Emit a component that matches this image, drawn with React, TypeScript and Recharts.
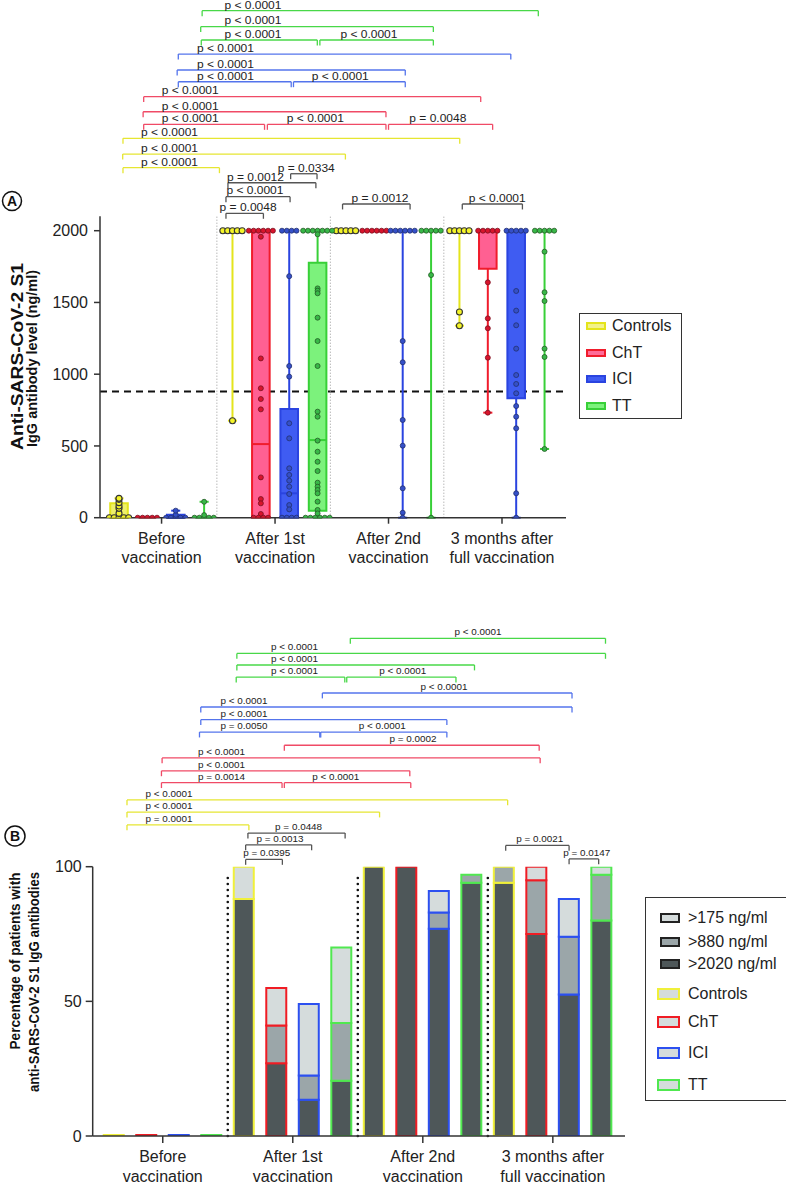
import React from 'react';
import { ComposedChart, XAxis, YAxis, Scatter, Bar, Cell, ReferenceLine, ReferenceArea, ReferenceDot } from 'recharts';

const timepoints = [
  ['Before', 'vaccination'],
  ['After 1st', 'vaccination'],
  ['After 2nd', 'vaccination'],
  ['3 months after', 'full vaccination'],
];
const groups = ['Controls', 'ChT', 'ICI', 'TT'];
const gradeLabels = ['>175 ng/ml', '>880 ng/ml', '>2020 ng/ml'];

// box stats per timepoint: [min, q1, median, q3, max]
const controlsBox = [[0, 0, 0, 100, 135], [676, 2000, 2000, 2000, 2000], [2000, 2000, 2000, 2000, 2000], [1338, 2000, 2000, 2000, 2000]];
const chtBox = [[0, 0, 0, 0, 0], [0, 0, 513, 2000, 2000], [2000, 2000, 2000, 2000, 2000], [732, 1735, 2000, 2000, 2000]];
const iciBox = [[0, 0, 0, 20, 49], [0, 0, 170, 757, 2000], [0, 2000, 2000, 2000, 2000], [0, 832, 2000, 2000, 2000]];
const ttBox = [[0, 0, 0, 0, 111], [0, 49, 541, 1777, 2000], [0, 2000, 2000, 2000, 2000], [479, 2000, 2000, 2000, 2000]];

// individual patients (ng/ml)
const controlsPts = [
  [0, 0, 0, 0, 0, 30, 65, 82, 105, 128, 135],
  [2000, 2000, 2000, 2000, 2000, 676],
  [2000, 2000, 2000, 2000, 2000],
  [2000, 2000, 2000, 2000, 2000, 1433, 1338],
];
const chtPts = [
  [0, 0, 0, 0, 0],
  [2000, 2000, 2000, 2000, 2000, 2000, 1958, 1110, 902, 827, 755, 281, 130, 100, 26, 0, 0, 0, 0],
  [2000, 2000, 2000, 2000, 2000, 2000],
  [2000, 2000, 2000, 2000, 2000, 1640, 1389, 1320, 1115, 732],
];
const iciPts = [
  [0, 0, 0, 0, 0, 20, 49],
  [2000, 2000, 2000, 2000, 1683, 1057, 983, 658, 553, 344, 298, 258, 216, 165, 88, 58, 0, 0, 0, 0],
  [2000, 2000, 2000, 2000, 2000, 2000, 1231, 1083, 681, 502, 205, 35, 0],
  [2000, 2000, 2000, 2000, 2000, 1580, 1443, 1341, 1178, 994, 932, 867, 778, 704, 623, 170, 0],
];
const ttPts = [
  [0, 0, 0, 0, 0, 18, 111],
  [2000, 2000, 2000, 2000, 2000, 2000, 2000, 1975, 1598, 1582, 1564, 1394, 1231, 1057, 739, 704, 537, 460, 390, 325, 244, 216, 193, 170, 112, 54, 30, 0, 0, 0, 0, 0, 0],
  [2000, 2000, 2000, 2000, 2000, 1691, 0],
  [2000, 2000, 2000, 2000, 2000, 1854, 1571, 1510, 1178, 1120, 479],
];

// panel B: % of patients, stacked increments (>2020, >880, >175)
const darkPct = [0, 0, 0, 0, 88, 27, 13.5, 20.5, 100, 100, 77, 94, 94, 75, 52.5, 80];
const midPct = [0, 0, 0, 0, 0, 14, 9, 21.5, 0, 0, 6, 3, 6, 20, 21.5, 17];
const lightPct = [0.4, 0.4, 0.4, 0.4, 12, 14, 26.5, 28, 0, 0, 8, 0, 0, 5, 14, 3];

// significance brackets: [from, to, level, label position, text, colour group]
const bracketsA: [number, number, number, number, string, string][] = [
  [2.93, 14.78, 3533, 4.72, 'p < 0.0001', 'TT'],
  [2.88, 11.08, 3422, 4.72, 'p < 0.0001', 'TT'],
  [2.9, 6.99, 3329, 4.72, 'p < 0.0001', 'TT'],
  [7.08, 11.08, 3329, 8.81, 'p < 0.0001', 'TT'],
  [2.09, 13.81, 3231, 3.75, 'p < 0.0001', 'ICI'],
  [2.05, 10.09, 3120, 3.75, 'p < 0.0001', 'ICI'],
  [2.09, 6.07, 3038, 3.75, 'p < 0.0001', 'ICI'],
  [6.15, 10.09, 3038, 7.8, 'p < 0.0001', 'ICI'],
  [0.87, 12.75, 2934, 2.51, 'p < 0.0001', 'ChT'],
  [0.85, 9.41, 2829, 2.51, 'p < 0.0001', 'ChT'],
  [0.87, 5.13, 2741, 2.51, 'p < 0.0001', 'ChT'],
  [5.23, 9.41, 2741, 6.92, 'p < 0.0001', 'ChT'],
  [9.5, 13.17, 2741, 11.24, 'p = 0.0048', 'ChT'],
  [0.14, 12.01, 2644, 1.78, 'p < 0.0001', 'Controls'],
  [0.13, 7.98, 2534, 1.78, 'p < 0.0001', 'Controls'],
  [0.14, 3.54, 2439, 1.78, 'p < 0.0001', 'Controls'],
  [6.05, 6.98, 2397, 6.6, 'p = 0.0334', 'gray'],
  [3.84, 6.94, 2334, 4.81, 'p = 0.0012', 'gray'],
  [3.77, 6.03, 2237, 4.79, 'p < 0.0001', 'gray'],
  [3.77, 5.09, 2121, 4.55, 'p = 0.0048', 'gray'],
  [7.88, 10.26, 2186, 9.2, 'p = 0.0012', 'gray'],
  [12.1, 14.22, 2186, 13.33, 'p < 0.0001', 'gray'],
];
const bracketsB: [number, number, number, number, string, string][] = [
  [7.27, 15.12, 184.8, 11.2, 'p < 0.0001', 'TT'],
  [3.78, 15.12, 179.2, 5.55, 'p < 0.0001', 'TT'],
  [3.78, 11.09, 174.9, 5.55, 'p < 0.0001', 'TT'],
  [3.76, 7.1, 170.4, 5.55, 'p < 0.0001', 'TT'],
  [7.16, 10.52, 170.4, 8.88, 'p < 0.0001', 'TT'],
  [6.41, 14.09, 164.5, 10.15, 'p < 0.0001', 'ICI'],
  [2.67, 14.09, 159.3, 4.0, 'p < 0.0001', 'ICI'],
  [2.67, 10.24, 154.6, 4.0, 'p < 0.0001', 'ICI'],
  [2.63, 6.33, 150.0, 4.0, 'p = 0.0050', 'ICI'],
  [6.36, 10.24, 150.0, 8.25, 'p < 0.0001', 'ICI'],
  [5.24, 13.08, 145.1, 9.2, 'p = 0.0002', 'ChT'],
  [1.48, 13.11, 140.4, 3.31, 'p < 0.0001', 'ChT'],
  [1.46, 9.1, 135.6, 3.31, 'p < 0.0001', 'ChT'],
  [1.46, 5.17, 131.2, 3.31, 'p = 0.0014', 'ChT'],
  [5.24, 9.13, 131.2, 6.82, 'p < 0.0001', 'ChT'],
  [0.4, 12.11, 124.8, 1.69, 'p < 0.0001', 'Controls'],
  [0.4, 8.17, 120.3, 1.69, 'p < 0.0001', 'Controls'],
  [0.4, 4.15, 115.5, 1.69, 'p = 0.0001', 'Controls'],
  [4.12, 7.11, 112.5, 5.68, 'p = 0.0448', 'gray'],
  [4.05, 6.08, 108.1, 5.11, 'p = 0.0013', 'gray'],
  [4.05, 5.18, 102.7, 4.7, 'p = 0.0395', 'gray'],
  [12.05, 14.0, 107.9, 13.1, 'p = 0.0021', 'gray'],
  [14.0, 14.91, 102.9, 14.54, 'p = 0.0147', 'gray'],
];

const FONT = '"Liberation Sans", Arial, Helvetica, sans-serif';
const boxStroke = ['#e4e41c', '#f01c2c', '#2a44e0', '#38d038'];
const boxFill = ['#eef06a', '#ff6092', '#3f5cf2', '#7cf27c'];
const dotFill = ['#f4f428', '#d8142c', '#3550c8', '#38b848'];
const dotEdge = ['#333', '#7a1020', '#223070', '#245a24'];
const legendFillA = ['#f2f28a', '#ff6c98', '#3f5cf2', '#7cf27c'];
const barStroke = ['#f0f03a', '#f01c24', '#2c50f0', '#50e850'];
const gradeFill = ['#d5dcdc', '#9ba6a9', '#4e5759'];
const bracketColor: Record<string, string> = {
  Controls: '#e6e632', ChT: '#f04a66', ICI: '#5474ec', TT: '#48d848', gray: '#555',
};

const groupCenters = timepoints.map((_, t) => 4 * t + 1.5);
const separators = [3.45, 7.45, 11.45];

// spread identical values side by side (swarm layout)
function swarm(vals: number[], center: number) {
  const counts = new Map<number, number>();
  vals.forEach(v => counts.set(v, (counts.get(v) || 0) + 1));
  const seen = new Map<number, number>();
  return vals.map(v => {
    const n = counts.get(v) || 1;
    const k = seen.get(v) || 0;
    seen.set(v, k + 1);
    return { x: center + (k - (n - 1) / 2) * 0.17, y: v };
  });
}

function bracketEls(list: typeof bracketsA, drop: number, lift: number, font: number, width: number, prefix: string) {
  return list.flatMap((b, i) => {
    const [x1, x2, y, tx, p, c] = b;
    const col = bracketColor[c];
    const lp = { stroke: col, strokeWidth: 1.3, ifOverflow: 'visible' as const };
    return [
      <ReferenceLine key={prefix + 'h' + i} segment={[{ x: x1, y }, { x: x2, y }]} {...lp} />,
      <ReferenceLine key={prefix + 'l' + i} segment={[{ x: x1, y }, { x: x1, y: y - drop }]} {...lp} />,
      <ReferenceLine key={prefix + 'r' + i} segment={[{ x: x2, y }, { x: x2, y: y - drop }]} {...lp} />,
      <ReferenceDot
        key={prefix + 't' + i}
        x={tx}
        y={y}
        r={0}
        ifOverflow="visible"
        shape={(pr: any) => (
          <text x={pr.cx} y={pr.cy - lift} textAnchor="middle" fontSize={font} fill="#222" fontFamily={FONT}
            textLength={width} lengthAdjust="spacingAndGlyphs">{p}</text>
        )}
      />,
    ];
  });
}

const allBoxes = [controlsBox, chtBox, iciBox, ttBox];
const allPts = [controlsPts, chtPts, iciPts, ttPts];

function boxEls() {
  const els: React.ReactElement[] = [];
  allBoxes.forEach((stats, g) => {
    stats.forEach((s, t) => {
      const cx = 4 * t + g;
      const [mn, q1, med, q3, mx] = s;
      const k = `b${g}-${t}`;
      const lp = { stroke: boxStroke[g], strokeWidth: 2 };
      if (mn < q1) {
        els.push(<ReferenceLine key={k + 'wl'} segment={[{ x: cx, y: mn }, { x: cx, y: q1 }]} {...lp} />);
        els.push(<ReferenceLine key={k + 'cl'} segment={[{ x: cx - 0.16, y: mn }, { x: cx + 0.16, y: mn }]} {...lp} />);
      }
      if (mx > q3) {
        els.push(<ReferenceLine key={k + 'wh'} segment={[{ x: cx, y: q3 }, { x: cx, y: mx }]} {...lp} />);
        els.push(<ReferenceLine key={k + 'ch'} segment={[{ x: cx - 0.16, y: mx }, { x: cx + 0.16, y: mx }]} {...lp} />);
      }
      if (q3 > q1) {
        els.push(
          <ReferenceArea key={k + 'box'} x1={cx - 0.31} x2={cx + 0.31} y1={q1} y2={q3}
            fill={boxFill[g]} fillOpacity={1} stroke={boxStroke[g]} strokeWidth={2} />
        );
      }
      els.push(<ReferenceLine key={k + 'med'} segment={[{ x: cx - 0.31, y: med }, { x: cx + 0.31, y: med }]} {...lp} />);
    });
  });
  return els;
}

const rowsB = darkPct.map((d, i) => ({ x: i, dark: d, mid: midPct[i], light: lightPct[i] }));

function makeTick(d1: number, d2: number) {
  return (props: any) => {
    const { x, y, payload } = props;
    const i = groupCenters.indexOf(payload.value);
    const lines = timepoints[i] || ['', ''];
    return (
      <g>
        <text x={x} y={y + d1} textAnchor="middle" fontSize={16} fill="#222" fontFamily={FONT}>{lines[0]}</text>
        <text x={x} y={y + d2} textAnchor="middle" fontSize={16} fill="#222" fontFamily={FONT}>{lines[1]}</text>
      </g>
    );
  };
}

const axisStyle = { stroke: '#333', strokeWidth: 1.5 };

export default function App() {
  return (
    <div style={{ position: 'absolute', left: 0, top: 0, width: 786, height: 1184, background: '#fff', fontFamily: FONT, overflow: 'hidden' }}>
      {/* Panel A */}
      <div style={{ position: 'absolute', left: 0, top: 0 }}>
        <ComposedChart width={786} height={570} margin={{ top: 216.35, right: 220, bottom: 2.3, left: 0 }}>
          <XAxis type="number" dataKey="x" domain={[-0.67, 15.756]} allowDataOverflow ticks={groupCenters} interval={0}
            height={50} tickSize={6} axisLine={axisStyle} tickLine={axisStyle} tick={makeTick(18.3, 37)} />
          <YAxis type="number" dataKey="y" domain={[0, 2100]} allowDataOverflow ticks={[0, 500, 1000, 1500, 2000]} interval={0}
            width={100} tickSize={6} tickMargin={6} axisLine={axisStyle} tickLine={axisStyle}
            tick={{ fill: '#222', fontSize: 16, fontFamily: FONT }} />
          {separators.map(s => (
            <ReferenceLine key={'sepA' + s} segment={[{ x: s, y: 0 }, { x: s, y: 2100 }]} stroke="#999" strokeWidth={1} strokeDasharray="1 2" />
          ))}
          <ReferenceLine y={880} stroke="#111" strokeWidth={2} strokeDasharray="7 5" zIndex={-10} />
          {boxEls()}
          {bracketEls(bracketsA, 38, 2.2, 10, 57, 'A')}
          {allPts.map((pts, g) => (
            <Scatter
              key={'sc' + g}
              name={groups[g]}
              data={pts.flatMap((vals, t) => swarm(vals, 4 * t + g))}
              isAnimationActive={false}
              shape={(p: any) => (
                <circle cx={p.cx} cy={p.cy} r={g === 0 ? 3 : 2.5} fill={dotFill[g]} stroke={dotEdge[g]} strokeWidth={g === 0 ? 1.1 : 0.8} />
              )}
            />
          ))}
        </ComposedChart>
      </div>

      {/* Panel B */}
      <div style={{ position: 'absolute', left: 0, top: 570 }}>
        <ComposedChart width={786} height={614} data={rowsB} margin={{ top: 296.7, right: 161, bottom: 0, left: 0 }}>
          <XAxis type="number" dataKey="x" domain={[-0.655, 15.72]} allowDataOverflow ticks={groupCenters} interval={0}
            height={48} tickSize={7} axisLine={axisStyle} tickLine={axisStyle} tick={makeTick(16.7, 36.7)} />
          <YAxis type="number" domain={[0, 100]} allowDataOverflow ticks={[0, 50, 100]} interval={0}
            width={92.7} tickSize={7} tickMargin={4} axisLine={axisStyle} tickLine={axisStyle}
            tick={{ fill: '#222', fontSize: 16, fontFamily: FONT }} />
          {[3.5, 7.5, 11.5].map(s => (
            <ReferenceLine key={'sepB' + s} segment={[{ x: s, y: 0 }, { x: s, y: 97.7 }]} stroke="#111" strokeWidth={2.6}
              strokeDasharray="0 6" strokeLinecap="round" />
          ))}
          <Bar dataKey="dark" stackId="s" barSize={20} isAnimationActive={false} fill={gradeFill[2]} strokeWidth={2}>
            {rowsB.map((r, i) => <Cell key={'d' + i} fill={gradeFill[2]} stroke={barStroke[i % 4]} />)}
          </Bar>
          <Bar dataKey="mid" stackId="s" barSize={20} isAnimationActive={false} fill={gradeFill[1]} strokeWidth={2}>
            {rowsB.map((r, i) => <Cell key={'m' + i} fill={gradeFill[1]} stroke={barStroke[i % 4]} />)}
          </Bar>
          <Bar dataKey="light" stackId="s" barSize={20} isAnimationActive={false} fill={gradeFill[0]} strokeWidth={2}>
            {rowsB.map((r, i) => <Cell key={'l' + i} fill={gradeFill[0]} stroke={barStroke[i % 4]} />)}
          </Bar>
          {bracketEls(bracketsB, 2, 3, 9.5, 47, 'B')}
        </ComposedChart>
      </div>

      {/* axis titles and panel letters */}
      <svg width={786} height={1184} style={{ position: 'absolute', left: 0, top: 0, pointerEvents: 'none' }}>
        <g fontFamily={FONT} fontWeight="bold" fill="#111">
          <text transform="translate(23,356.5) rotate(-90)" textAnchor="middle" fontSize={16} textLength={187} lengthAdjust="spacingAndGlyphs">Anti-SARS-CoV-2 S1</text>
          <text transform="translate(36.5,358.5) rotate(-90)" textAnchor="middle" fontSize={15} textLength={177} lengthAdjust="spacingAndGlyphs">IgG antibody level (ng/ml)</text>
          <text transform="translate(20,961) rotate(-90)" textAnchor="middle" fontSize={14} textLength={177} lengthAdjust="spacingAndGlyphs">Percentage of patients with</text>
          <text transform="translate(39,982) rotate(-90)" textAnchor="middle" fontSize={14} textLength={220} lengthAdjust="spacingAndGlyphs">anti-SARS-CoV-2 S1 IgG antibodies</text>
        </g>
        <circle cx={12} cy={201} r={9.5} fill="#fff" stroke="#111" strokeWidth={1.5} />
        <text x={12} y={206} textAnchor="middle" fontSize={14} fontWeight="bold" fontFamily={FONT} fill="#111">A</text>
        <circle cx={15} cy={836} r={10} fill="#fff" stroke="#111" strokeWidth={1.5} />
        <text x={15} y={841} textAnchor="middle" fontSize={14} fontWeight="bold" fontFamily={FONT} fill="#111">B</text>
      </svg>

      {/* legend A */}
      <div style={{ position: 'absolute', left: 579, top: 313, width: 103, height: 106, border: '1.5px solid #333', boxSizing: 'border-box' }}>
        {groups.map((g, i) => (
          <div key={g} style={{ position: 'absolute', left: 6, top: 12 + i * 26.7 - 9, height: 18, display: 'flex', alignItems: 'center' }}>
            <div style={{ width: 20, height: 8, background: legendFillA[i], border: `2px solid ${boxStroke[i]}`, boxSizing: 'border-box' }} />
            <span style={{ marginLeft: 6, fontSize: 16, lineHeight: '18px', color: '#222' }}>{g}</span>
          </div>
        ))}
      </div>

      {/* legend B */}
      <div style={{ position: 'absolute', left: 645, top: 897, width: 150, height: 204, border: '1.5px solid #333', boxSizing: 'border-box' }}>
        {gradeLabels.map((g, i) => (
          <div key={g} style={{ position: 'absolute', left: 14, top: [19.5, 43.5, 66][i] - 9, height: 18, display: 'flex', alignItems: 'center' }}>
            <div style={{ width: 20, height: 10, background: gradeFill[i], border: '2px solid #222', boxSizing: 'border-box' }} />
            <span style={{ marginLeft: 8, fontSize: 16, lineHeight: '18px', color: '#222' }}>{g}</span>
          </div>
        ))}
        {groups.map((g, i) => (
          <div key={g} style={{ position: 'absolute', left: 11, top: [96, 123.5, 155, 187][i] - 9, height: 18, display: 'flex', alignItems: 'center' }}>
            <div style={{ width: 23, height: 12, background: gradeFill[0], border: `2.5px solid ${barStroke[i]}`, boxSizing: 'border-box' }} />
            <span style={{ marginLeft: 8, fontSize: 16, lineHeight: '18px', color: '#222' }}>{g}</span>
          </div>
        ))}
      </div>
    </div>
  );
}
